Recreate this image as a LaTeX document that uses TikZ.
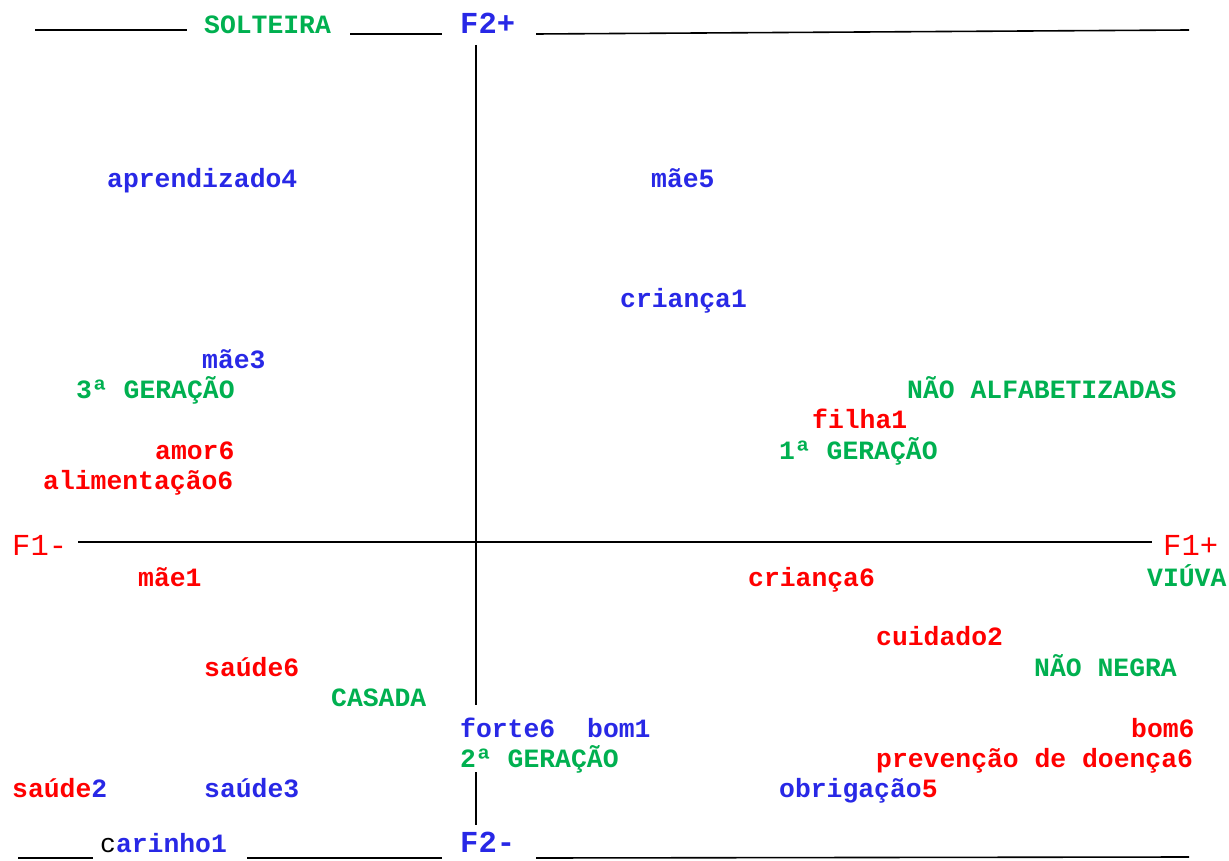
\documentclass[tikz,border=0pt]{standalone}
\usepackage{fontspec}
\setmonofont{Liberation Mono}
\usetikzlibrary{positioning}
\definecolor{grupoverde}{RGB}{0,176,80}
\definecolor{grupoazul}{RGB}{40,40,230}
\definecolor{grupovermelho}{RGB}{255,0,0}
\tikzset{
    palavra/.style={anchor=base west,inner sep=0pt,
        font=\ttfamily\bfseries\fontsize{26.4}{28}\selectfont},
    azul/.style={palavra,text=grupoazul},
    vermelho/.style={palavra,text=grupovermelho},
    verde/.style={palavra,text=grupoverde},
    fatorF1/.style={anchor=base west,inner sep=0pt,
        font=\ttfamily\fontsize{30.5}{32}\selectfont,text=grupovermelho},
    fatorF2/.style={anchor=base west,inner sep=0pt,
        font=\ttfamily\bfseries\fontsize{30.5}{32}\selectfont,text=grupoazul},
    eixo/.style={line width=1.6pt,line cap=butt}}

\begin{document}
\begin{tikzpicture}[x=1pt,y=-1pt]
\useasboundingbox (0,0) rectangle (1229,861);

% eixos
\draw[eixo] (35,30) -- (187,30);
\draw[eixo] (350,34) -- (442,34);
\draw[eixo] (536,34) -- (1189,30);
\draw[eixo] (18,858) -- (93,858);
\draw[eixo] (247,858) -- (442,858);
\draw[eixo] (536,858) -- (1189,857);
\draw[eixo] (78,542) -- (1152,542);
\draw[eixo] (476,45) -- (476,705);
\draw[eixo] (476,772) -- (476,825);

% fatores
\node[fatorF2] (f2mais)  at (460,34)  {F2+};
\node[fatorF2] (f2menos) at (460,852) {F2-};
\node[fatorF1] (f1menos) at (12,555)  {F1-};
\node[fatorF1] (f1mais)  at (1163,555) {F1+};

% variaveis
\node[verde] (solteira)   at (204,34)  {SOLTEIRA};
\node[verde] (geracao3)   at (76,398)  {3ª GERAÇÃO};
\node[verde] (naoalfab)   at (907,398) {NÃO ALFABETIZADAS};
\node[verde] (geracao1)   at (779,459) {1ª GERAÇÃO};
\node[verde] (viuva)      at (1147,586) {VIÚVA};
\node[verde] (naonegra)   at (1034,676) {NÃO NEGRA};
\node[verde] (casada)     at (331,706) {CASADA};
\node[verde] (geracao2)   at (460,767) {2ª GERAÇÃO};

% palavras
\node[azul] (aprendizado4) at (107,188) {aprendizado4};
\node[azul] (mae5)         at (651,188) {mãe5};
\node[azul] (crianca1)     at (620,307) {criança1};
\node[azul] (mae3)         at (202,368) {mãe3};
\node[vermelho] (filha1)   at (812,428) {filha1};
\node[vermelho] (amor6)    at (155,459) {amor6};
\node[vermelho] (alimentacao6) at (43,489) {alimentação6};
\node[vermelho] (mae1)     at (138,586) {mãe1};
\node[vermelho] (crianca6) at (748,586) {criança6};
\node[vermelho] (cuidado2) at (876,645) {cuidado2};
\node[vermelho] (saude6)   at (204,676) {saúde6};
\node[azul] (forte6)       at (460,737) {forte6};
\node[azul] (bom1)         at (587,737) {bom1};
\node[vermelho] (bom6)     at (1131,737) {bom6};
\node[vermelho] (prevencao6) at (876,767) {prevenção de doença6};
\node[vermelho] (saude2)   at (12,797)  {saúde{\color{grupoazul}2}};
\node[azul] (saude3)       at (204,797) {saúde3};
\node[azul] (obrigacao5)   at (779,797) {obrigação{\color{grupovermelho}5}};
\node[azul] (carinho1)     at (100,852) {{\mdseries\color{black}c}arinho1};
\end{tikzpicture}
\end{document}
